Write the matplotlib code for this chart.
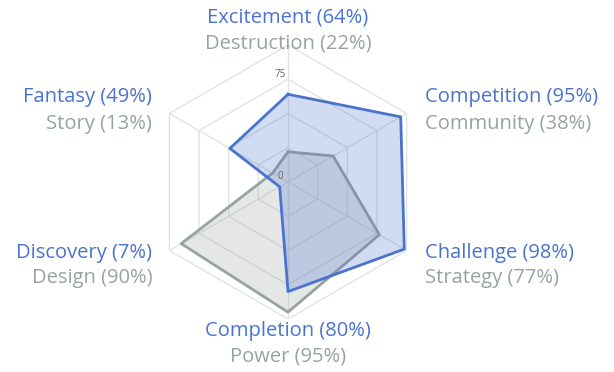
import numpy as np
import matplotlib.pyplot as plt

plt.rcParams['font.family'] = ['Open Sans', 'DejaVu Sans']

# data (clockwise from top)
labels_a = ["Excitement", "Competition", "Challenge", "Completion", "Discovery", "Fantasy"]
values_a = [64, 95, 98, 80, 7, 49]
labels_b = ["Destruction", "Community", "Strategy", "Power", "Design", "Story"]
values_b = [22, 38, 77, 95, 90, 13]
rings = [25, 50, 75, 100]
tick_labels = {75: "75", 0: "0"}

blue = "#4a73cf"
grey = "#97a39e"

fig = plt.figure(figsize=(6.14, 3.72), dpi=100)
ax = fig.add_axes([0.2459, 0.1425, 0.4463, 0.7366], projection="polar")
ax.set_theta_zero_location("N")
ax.set_theta_direction(-1)
ax.set_ylim(0, 100)
ax.grid(False)
ax.spines["polar"].set_visible(False)
ax.set_xticks([])
ax.set_yticks([])
ax.patch.set_alpha(0)

n = len(labels_a)
theta = np.arange(n) * 2 * np.pi / n
theta_c = np.append(theta, theta[0])

# hexagon grid
for r in rings:
    ax.plot(theta_c, [r] * (n + 1), color="#e3e3e3", lw=1, zorder=1)
for t in theta:
    ax.plot([t, t], [0, 100], color="#e3e3e3", lw=1, zorder=1)

# series
vb = np.append(values_b, values_b[0])
va = np.append(values_a, values_a[0])
ax.fill(theta_c, vb, color=grey, alpha=0.25, zorder=2)
ax.plot(theta_c, vb, color=grey, lw=2, zorder=3)
ax.fill(theta_c, va, color=blue, alpha=0.25, zorder=4)
ax.plot(theta_c, va, color=blue, lw=2, zorder=5)

# tick labels
for r, s in tick_labels.items():
    ax.annotate(s, xy=(0, r), xytext=(-8, 5), textcoords="offset pixels",
                ha="center", va="center", fontsize=7, color="#666666", zorder=6)

# point labels: offsets in pixels (blue line, grey line), alignment
offsets = [((0, 27), (0, 1), "center"),
           ((18, 16.5), (18, -10.5), "left"),
           ((18, -2.5), (18, -27.5), "left"),
           ((0, -12), (0, -38), "center"),
           ((-17, -2.5), (-17, -27.5), "right"),
           ((-17, 16.5), (-17, -10.5), "right")]
for i in range(n):
    oa, ob, ha = offsets[i]
    ax.annotate(f"{labels_a[i]} ({values_a[i]}%)", xy=(theta[i], 100), xytext=oa,
                textcoords="offset pixels", ha=ha, va="center", fontsize=14.5,
                color=blue, annotation_clip=False)
    ax.annotate(f"{labels_b[i]} ({values_b[i]}%)", xy=(theta[i], 100), xytext=ob,
                textcoords="offset pixels", ha=ha, va="center", fontsize=14.5,
                color=grey, annotation_clip=False)

fig.savefig("out.png", dpi=100)
